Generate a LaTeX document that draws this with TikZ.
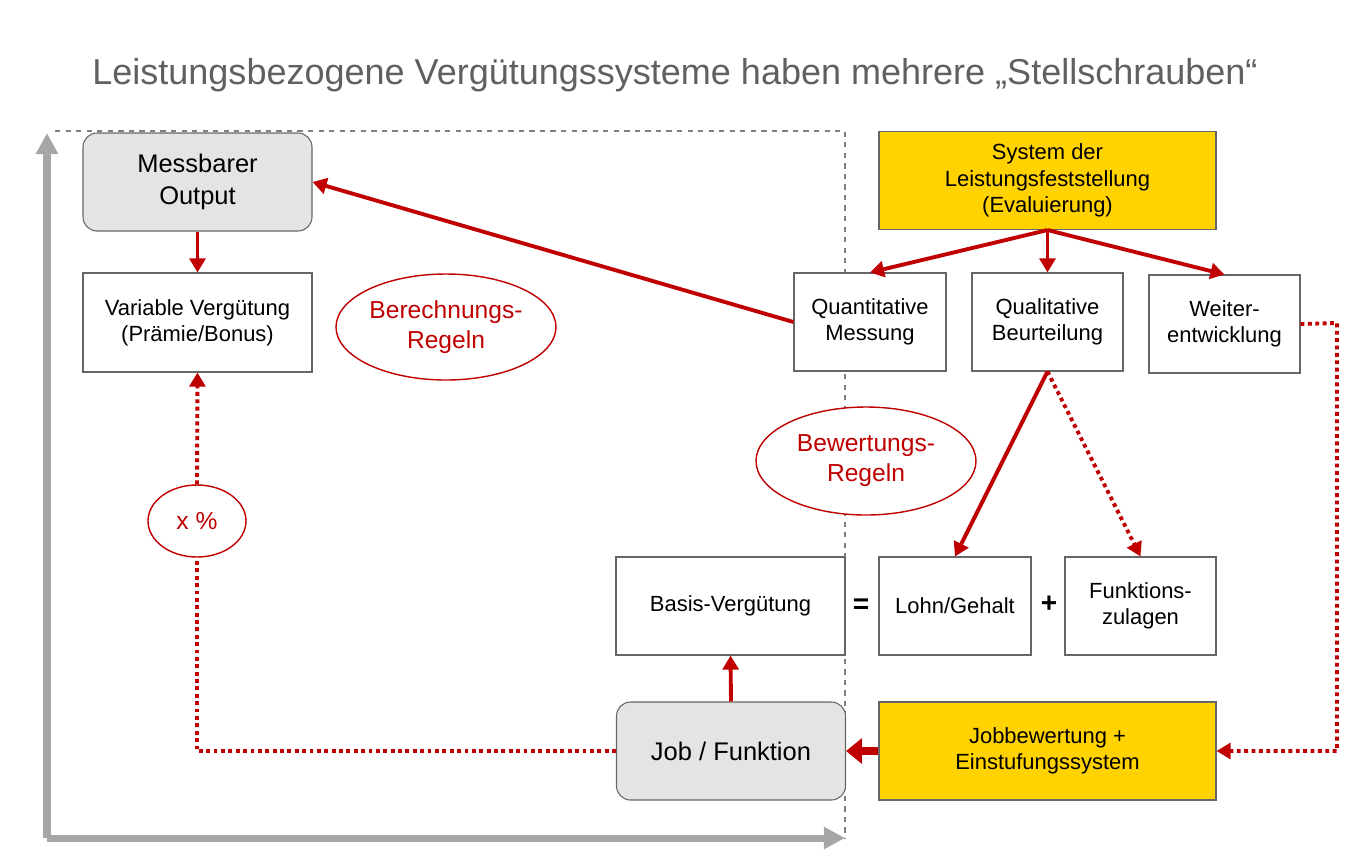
\documentclass[tikz,border=0pt]{standalone}
\usepackage{fontspec}
\setmainfont{Liberation Sans}
\usetikzlibrary{arrows.meta,shapes.geometric}
\definecolor{dred}{HTML}{C00000}
\definecolor{ygold}{HTML}{FFD200}
\definecolor{lgray}{HTML}{E3E4E3}
\definecolor{agray}{HTML}{A6A6A6}
\begin{document}
\begin{tikzpicture}[x=0.02cm,y=-0.02cm,
  box/.style={draw=gray!80!black,line width=0.6pt,fill=white,minimum width=#1,align=center,font=\fontsize{12.5}{15}\selectfont,inner sep=0pt},
  ybox/.style={box=337*0.02cm,fill=ygold,minimum height=98*0.02cm},
  gbox/.style={box=229*0.02cm,fill=lgray,rounded corners=8pt,minimum height=98*0.02cm,font=\fontsize{14.5}{18}\selectfont},
  ell/.style={ellipse,draw=dred,line width=0.8pt,text=dred,align=center,font=\fontsize{14}{17}\selectfont,inner sep=0pt},
  arr/.style={draw=dred,line width=2.2pt,-{Triangle[length=8pt,width=9pt]}},
  dot/.style={draw=dred,line width=2.2pt,dotted},
  dotarr/.style={dot,-{Triangle[length=8pt,width=9pt]}}]
\useasboundingbox (0,0) rectangle (1350,867);
\node[text=gray!75!black,font=\fontsize{20.5}{24}\selectfont] (title) at (675,75) {Leistungsbezogene Vergütungssysteme haben mehrere „Stellschrauben“};
% axes and dashed frame
\draw[gray,dashed,line width=0.6pt] (55,131) -- (845,131) -- (845,838);
\draw[agray,line width=4pt,-{Triangle[length=12pt,width=12pt]}] (47,838) -- (47,133);
\draw[agray,line width=4pt,-{Triangle[length=12pt,width=12pt]}] (47,838) -- (845,838);
% nodes
\node[gbox] (mo) at (197.5,182) {Messbarer\\Output};
\node[box=229*0.02cm,minimum height=99*0.02cm] (vv) at (197.5,322.5) {Variable Vergütung\\(Prämie/Bonus)};
\node[ell,minimum width=220*0.02cm,minimum height=106*0.02cm,fill=white] (br) at (446,327) {Berechnungs-\\Regeln};
\node[ell,minimum width=98*0.02cm,minimum height=72*0.02cm,fill=white] (xp) at (197,521) {x \%};
\node[ybox] (sys) at (1047.5,180.5) {System der\\Leistungsfeststellung\\(Evaluierung)};
\node[box=152*0.02cm,minimum height=98*0.02cm] (qm) at (870,322) {Quantitative\\Messung};
\node[box=151*0.02cm,minimum height=98*0.02cm] (qb) at (1047.5,322) {Qualitative\\Beurteilung};
\node[box=151*0.02cm,minimum height=98*0.02cm] (we) at (1224.5,324) {Weiter-\\entwicklung};
\node[ell,minimum width=220*0.02cm,minimum height=108*0.02cm,fill=white] (bw) at (866,461) {Bewertungs-\\Regeln};
\node[box=229*0.02cm,minimum height=98*0.02cm] (bv) at (730.5,606) {Basis-Vergütung};
\node[box=152*0.02cm,minimum height=98*0.02cm] (lg) at (955,606) {Lohn/Gehalt};
\node[box=151*0.02cm,minimum height=98*0.02cm] (fz) at (1140.5,606) {Funktions-\\zulagen};
\node[font=\bfseries\fontsize{16}{18}\selectfont] (eq) at (861,606) {=};
\node[font=\bfseries\fontsize{16}{18}\selectfont] (pl) at (1049,604) {+};
\node[gbox] (job) at (731,751) {Job / Funktion};
\node[ybox] (jb) at (1047.5,751) {Jobbewertung +\\Einstufungssystem};
% arrows
\draw[arr] (qm.west) -- (mo.east);
\draw[arr] (mo.south) -- (vv.north);
\draw[arr] (sys.south) -- (qm.north);
\draw[arr] (sys.south) -- (qb.north);
\draw[arr] (sys.south) -- (we.north);
\draw[arr] (qb.south) -- (lg.north);
\draw[dotarr] (qb.south) -- (fz.north);
\coordinate (c1) at (1337,323);
\coordinate (c2) at (1337,751);
\draw[dotarr] (we.east) -- (c1) -- (c2) -- (jb.east);
\draw[draw=dred,line width=4.5pt,-{Triangle[length=9pt,width=14pt]}] (jb.west) -- (job.east);
\draw[arr] (job.north) -- (bv.south);
\coordinate (c3) at (197,751);
\draw[dot] (job.west) -- (c3) -- (xp.south);
\draw[dotarr] (xp.north) -- (vv.south);
\end{tikzpicture}
\end{document}
